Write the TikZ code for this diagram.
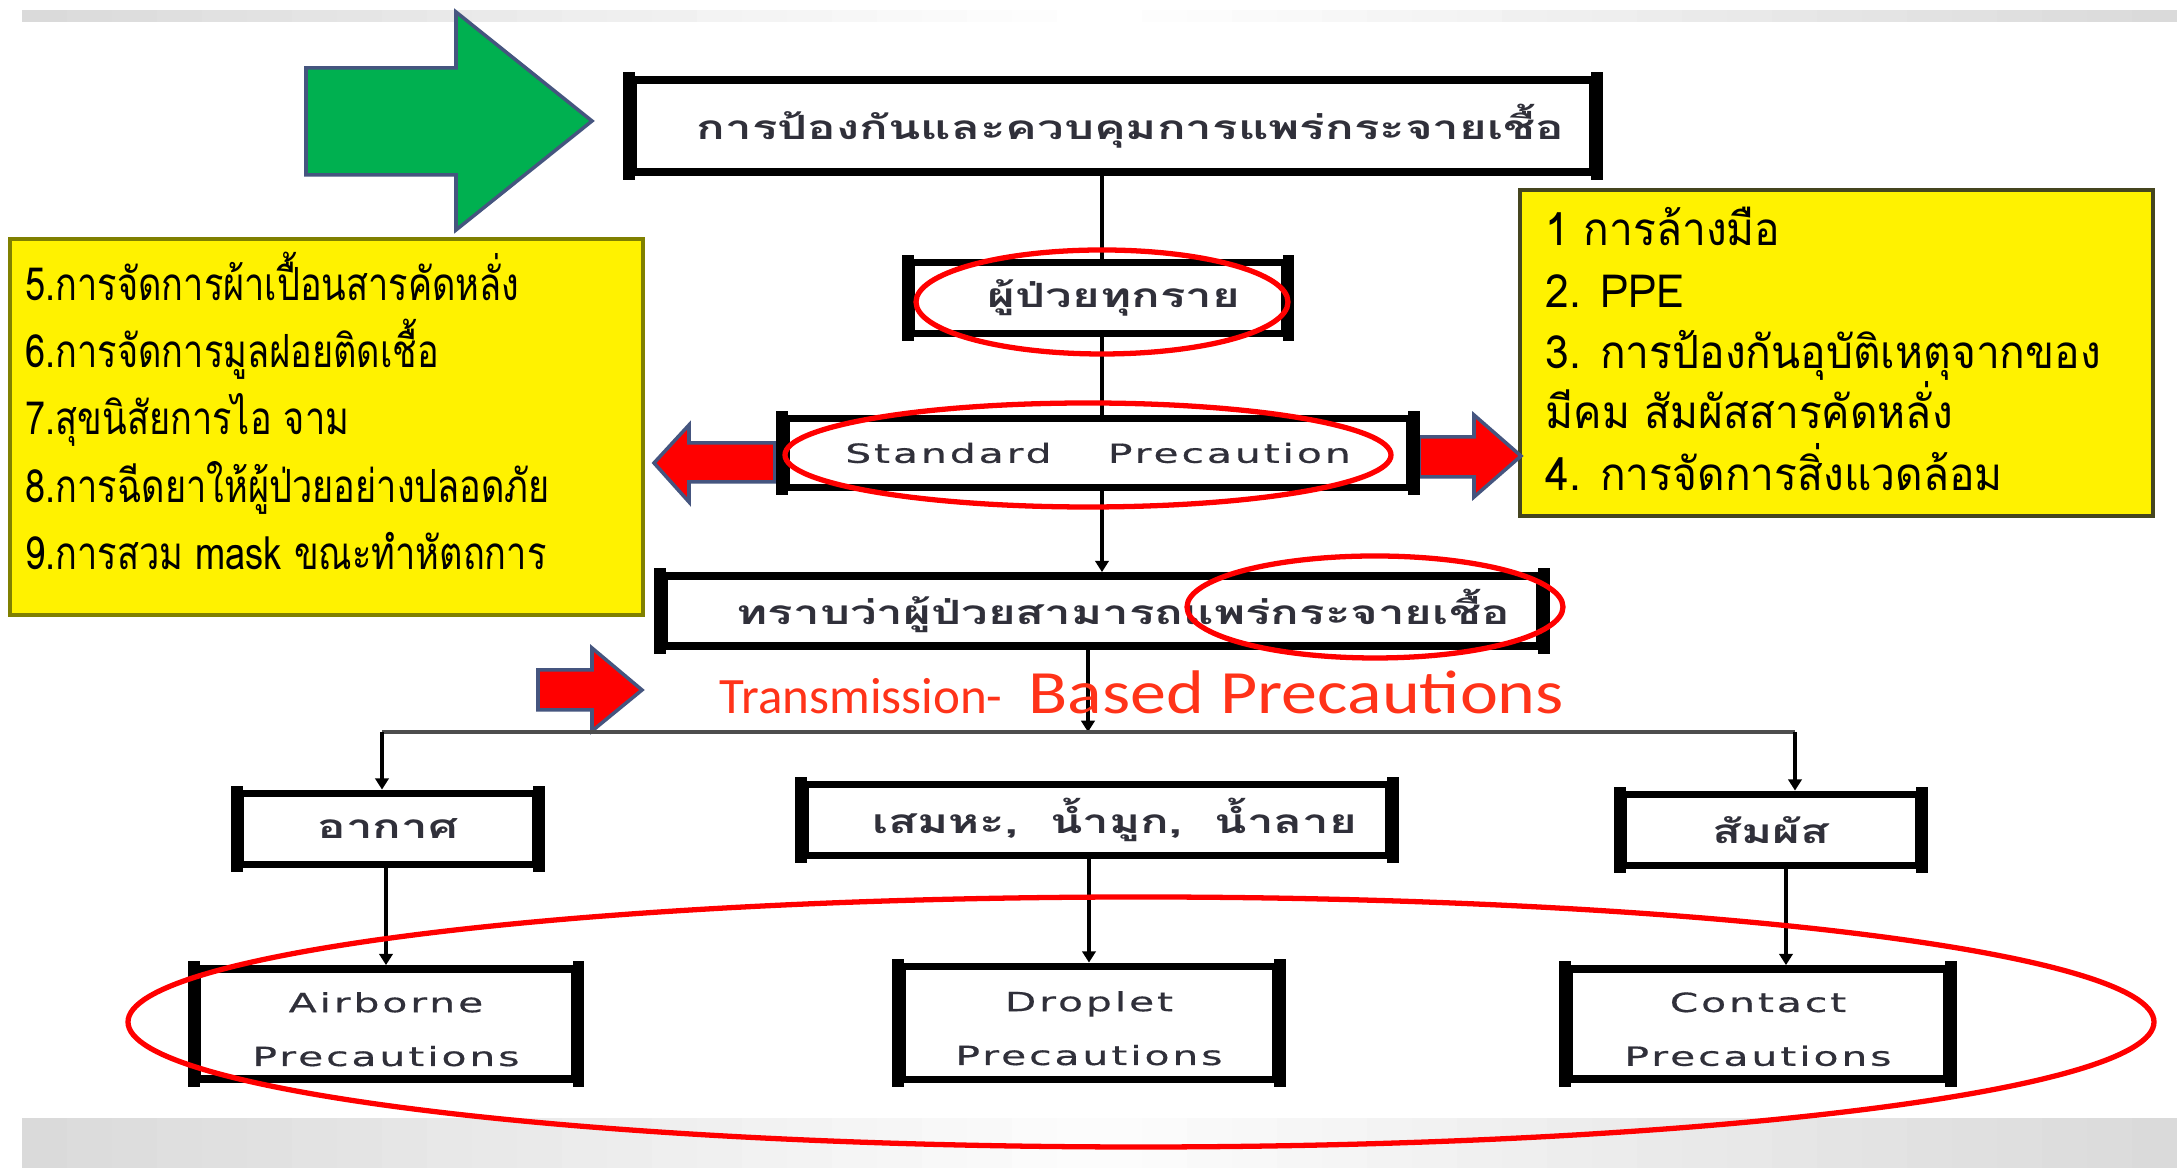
\documentclass[tikz,border=0pt]{standalone}
\usepackage{fontspec}
\usetikzlibrary{arrows.meta}
\newfontfamily\thaiwide[Script=Thai,FakeStretch=1.42]{Loma}
\newfontfamily\thaiybox[Script=Thai,FakeStretch=0.79]{Loma}
\newfontfamily\thaiyboxr[Script=Thai,FakeStretch=0.93]{Loma}
\newfontfamily\widesans[FakeStretch=1.55,LetterSpace=11,FakeBold=0.5]{DejaVu Sans}
\newfontfamily\calfont{Carlito}
\newfontfamily\calwide[FakeStretch=1.17]{Carlito}
\definecolor{garrow}{HTML}{00B050}
\definecolor{slate}{HTML}{45557F}
\definecolor{tgray}{HTML}{30303A}
\definecolor{trred}{HTML}{FF3319}
\definecolor{hgray}{HTML}{4D4D4D}
\definecolor{yolive}{HTML}{808000}
\definecolor{ydark}{HTML}{45451F}
\definecolor{bandedge}{HTML}{DADADA}
\definecolor{bandmid}{HTML}{FCFCFC}
\begin{document}
\begin{tikzpicture}[x=0.01cm,y=-0.01cm,
  fbox/.style={draw=black,line width=2.2pt,fill=white,inner sep=0pt,text=tgray,
    font=\thaiwide\bfseries\fontsize{9.5}{12}\selectfont},
  ebox/.style={fbox,font=\widesans\fontsize{7.5}{15.3}\selectfont,align=center},
  conn/.style={line width=1.1pt,black},
  arr/.style={conn,-{Triangle[length=3.2pt,width=3.8pt]}},
  ell/.style={draw=red,line width=1.5pt},
  fat/.style={draw=slate,line width=1pt,line join=miter},
  yl/.style={anchor=base west,inner sep=0pt,text=black,font=\thaiybox\fontsize{13}{15}\selectfont},
  yr/.style={anchor=base west,inner sep=0pt,text=black,font=\thaiyboxr\fontsize{13}{15}\selectfont}]
\useasboundingbox (0,0) rectangle (2177,1168);
\fill[white] (0,0) rectangle (2177,1168);
% bands (stepped gradient: grey at the edges, near white in the middle)
\foreach \i in {0,...,23}{
  \pgfmathsetmacro{\xa}{22+\i*45}
  \pgfmathsetmacro{\xb}{22+(\i+1)*45+1}
  \pgfmathsetmacro{\xc}{2177-\i*45}
  \pgfmathsetmacro{\xd}{2177-(\i+1)*45-1}
  \pgfmathtruncatemacro{\pc}{100-\i*100/23}
  \fill[bandedge!\pc!white] (\xa,10) rectangle (\xb,22);
  \fill[bandedge!\pc!white] (\xc,10) rectangle (\xd,22);
  \fill[bandedge!\pc!bandmid] (\xa,1118) rectangle (\xb,1168);
  \fill[bandedge!\pc!bandmid] (\xc,1118) rectangle (\xd,1168);
}
% green arrow
\filldraw[fat,fill=garrow] (306,68) -- (456,68) -- (456,12) -- (592,121) -- (456,230) -- (456,175) -- (306,175) -- cycle;
% yellow boxes
\filldraw[fill=yellow,draw=yolive,line width=1pt] (10,239) rectangle (643,615);
\filldraw[fill=yellow,draw=ydark,line width=1pt] (1520,190) rectangle (2153,516);
\node[yl] (l5) at (25,301) {5.การจัดการผ้าเปื้อนสารคัดหลั่ง};
\node[yl] (l6) at (25,368) {6.การจัดการมูลฝอยติดเชื้อ};
\node[yl] (l7) at (25,435) {7.สุขนิสัยการไอ จาม};
\node[yl] (l8) at (25,503) {8.การฉีดยาให้ผู้ป่วยอย่างปลอดภัย};
\node[yl] (l9) at (25,570) {9.การสวม mask ขณะทำหัตถการ};
\node[yr] (r1) at (1545,246) {1 การล้างมือ};
\node[yr] (r2) at (1545,308) {2. PPE};
\node[yr] (r3) at (1545,369) {3. การป้องกันอุบัติเหตุจากของ};
\node[yr] (r3b) at (1545,429) {มีคม สัมผัสสารคัดหลั่ง};
\node[yr] (r4) at (1545,491) {4. การจัดการสิ่งแวดล้อม};
% red side arrows
\filldraw[fat,fill=red] (775,443) -- (689,443) -- (689,425) -- (654,463) -- (689,502) -- (689,482) -- (775,482) -- cycle;
\filldraw[fat,fill=red] (1419,437) -- (1474,437) -- (1474,415) -- (1521,456) -- (1474,497) -- (1474,477) -- (1419,477) -- cycle;
\filldraw[fat,fill=red] (538,670) -- (592,670) -- (592,648) -- (642,690) -- (592,731) -- (592,710) -- (538,710) -- cycle;
% coordinates
\coordinate (vx) at (1102,0);
\coordinate (hj) at (1088,732);
\coordinate (hl) at (382,732);
\coordinate (hr) at (1795,732);
\coordinate (cx) at (1786,0);
% boxes
\node[fbox,minimum width=9.6cm,minimum height=0.92cm] (top) at (1113,126) {\hspace*{10pt}การป้องกันและควบคุมการแพร่กระจายเชื้อ};
\node[fbox,minimum width=3.73cm,minimum height=0.71cm] (b2) at (1098,298) {\hspace*{9pt}ผู้ป่วยทุกราย};
\node[fbox,minimum width=6.23cm,minimum height=0.69cm,font=\widesans\fontsize{7.5}{9}\selectfont] (b3) at (1098,453) {Standard\hspace{16pt}Precaution};
\node[fbox,minimum width=8.75cm,minimum height=0.70cm] (b4) at (1102,611) {\hspace*{12pt}ทราบว่าผู้ป่วยสามารถแพร่กระจายเชื้อ};
\node[fbox,minimum width=2.95cm,minimum height=0.71cm] (ak) at (388,829) {อากาศ};
\node[fbox,minimum width=5.84cm,minimum height=0.71cm] (sm) at (1097,820) {\hspace*{10pt}เสมหะ,\ \ น้ำมูก,\ \ น้ำลาย};
\node[fbox,minimum width=2.95cm,minimum height=0.71cm] (sp) at (1771,830) {สัมผัส};
\node[ebox,minimum width=3.77cm,minimum height=1.10cm] (ab) at (386,1024) {};
\node[ebox,minimum width=3.74cm,minimum height=1.13cm] (dp) at (1089,1023) {};
\node[ebox,minimum width=3.78cm,minimum height=1.10cm] (ct) at (1758,1024) {};
\node[ebox,draw=none,fill=none] (abt) at ([yshift=-1.5pt]ab.center) {Airborne\\Precautions};
\node[ebox,draw=none,fill=none] (dpt) at ([yshift=-1.5pt]dp.center) {Droplet\\Precautions};
\node[ebox,draw=none,fill=none] (ctt) at ([yshift=-1.5pt]ct.center) {Contact\\Precautions};
\foreach \n in {top,b2,b3,b4,ak,sm,sp,ab,dp,ct}{
  \draw[line width=3.4pt,line cap=rect,shorten <=0.6pt,shorten >=0.6pt] (\n.north west) -- (\n.south west);
  \draw[line width=3.4pt,line cap=rect,shorten <=0.6pt,shorten >=0.6pt] (\n.north east) -- (\n.south east);
}
\draw[conn] (top.south -| vx) -- (b2.north -| vx);
\draw[conn] (b2.south -| vx) -- (b3.north -| vx);
\draw[arr] (b3.south -| vx) -- (b4.north -| vx);
\draw[arr] (b4.south -| hj) -- (hj);
\draw[line width=1.3pt,hgray] (hl) -- (hr);
\draw[arr] (hl) -- (ak.north -| hl);
\draw[arr] (hr) -- (sp.north -| hr);
\draw[arr] (ak.south -| ab.north) -- (ab.north);
\draw[arr] (sm.south -| dp.north) -- (dp.north);
\draw[arr] (sp.south -| cx) -- (ct.north -| cx);
% transmission text
\node[anchor=base west,inner sep=0pt,text=trred,font=\calfont\fontsize{14.5}{16}\selectfont] (tr1) at (719,714) {Transmission-};
\node[anchor=base west,inner sep=0pt,text=trred,font=\calwide\fontsize{17.5}{20}\selectfont] (tr2) at (1028,714) {Based Precautions};
% ellipses
\draw[ell] (1102,302) ellipse [x radius=186, y radius=52];
\draw[ell] (1088,455) ellipse [x radius=303, y radius=52];
\draw[ell] (1375,607) ellipse [x radius=188, y radius=51];
\draw[ell] (1141,1022) ellipse [x radius=1013, y radius=125];
\end{tikzpicture}
\end{document}
